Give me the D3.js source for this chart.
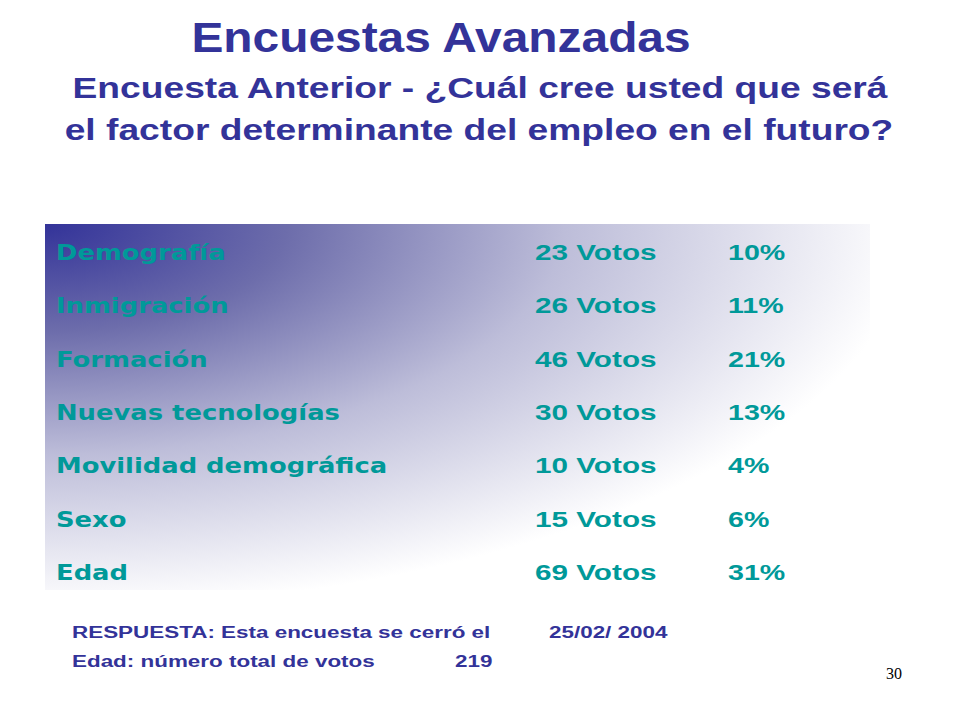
<!DOCTYPE html>
<html><head><meta charset="utf-8">
<script src="https://cdn.jsdelivr.net/npm/d3@7"></script>
<style>body{margin:0;background:#fff}</style></head>
<body><svg id="c" width="960" height="720"></svg>
<script>
const categories = ["Demografía", "Inmigración", "Formación", "Nuevas tecnologías", "Movilidad demográfica", "Sexo", "Edad"];
const votes = [23, 26, 46, 30, 10, 15, 69];
const percents = [10, 11, 21, 13, 4, 6, 31];

const svg = d3.select("#c");
const defs = svg.append("defs");
const g = defs.append("radialGradient").attr("id", "bg")
  .attr("cx", 0).attr("cy", 0).attr("r", 1.05).attr("fx", 0).attr("fy", 0);
g.append("stop").attr("offset", "0").attr("stop-color", "#333399");
g.append("stop").attr("offset", "0.28").attr("stop-color", "#6d6dab");
g.append("stop").attr("offset", "0.6").attr("stop-color", "#bdbdd9");
g.append("stop").attr("offset", "1").attr("stop-color", "#ffffff");

svg.append("rect").attr("x", 45).attr("y", 224).attr("width", 825).attr("height", 366)
  .attr("fill", "url(#bg)");

// stretched text, like the slide's wide fonts
function put(parent, x, y, str, sx, opts) {
  const o = Object.assign({ size: 20, fill: "#333399", family: "Liberation Sans, Arial", anchor: "start" }, opts);
  return parent.append("text")
    .attr("transform", `translate(${x},${y}) scale(${sx},1)`)
    .attr("text-anchor", o.anchor).attr("font-family", o.family).attr("font-weight", o.weight || "bold")
    .attr("font-size", o.size).attr("fill", o.fill).text(str);
}

put(svg, 441, 52, "Encuestas Avanzadas", 1.14, { size: 42, anchor: "middle" });
put(svg, 480, 98, "Encuesta Anterior - ¿Cuál cree usted que será", 1.24, { size: 30, anchor: "middle" });
put(svg, 479, 140, "el factor determinante del empleo en el futuro?", 1.24, { size: 30, anchor: "middle" });

const y = d3.scaleBand().domain(categories).range([226, 600]).padding(0);
const teal = "#009999";
categories.forEach((d, i) => {
  const yy = y(d) + y.bandwidth() / 2 + 7;
  put(svg, 56, yy, d, 1.23, { size: 21, fill: teal, family: "DejaVu Sans, Verdana" });
  put(svg, 535, yy, votes[i] + " Votos", 1.35, { size: 22, fill: teal });
  put(svg, 728, yy, percents[i] + "%", 1.3, { size: 22, fill: teal });
});

put(svg, 72, 638, "RESPUESTA: Esta encuesta se cerró el", 1.32, { size: 17 });
put(svg, 549, 638, "25/02/ 2004", 1.32, { size: 17 });
put(svg, 72, 667, "Edad: número total de votos", 1.32, { size: 17 });
put(svg, 455, 667, d3.sum(votes), 1.32, { size: 17 });
put(svg, 902, 679, "30", 1, { size: 16, fill: "#000", family: "Liberation Serif, Times New Roman", anchor: "end", weight: "normal" });
</script></body></html>
